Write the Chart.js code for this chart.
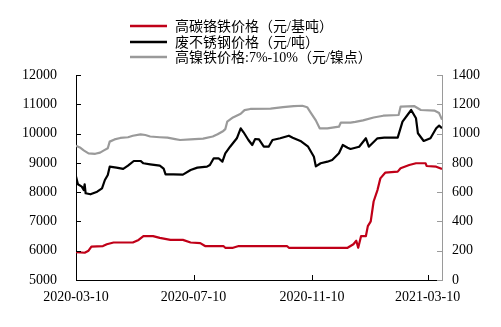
<!DOCTYPE html>
<html>
<head>
<meta charset="utf-8">
<script src="https://cdn.jsdelivr.net/npm/chart.js@4"></script>
<style>
  html, body { margin: 0; padding: 0; background: #fff; }
  canvas { display: block; }
</style>
</head>
<body>
<canvas id="c" width="501" height="327"></canvas>
<script>
// 高碳铬铁价格（元/基吨） — left axis
const redDates = ['2020-03-10','2020-03-19','2020-03-23','2020-03-26','2020-04-07','2020-04-11','2020-04-18','2020-05-08','2020-05-14','2020-05-19','2020-05-29','2020-06-05','2020-06-16','2020-06-29','2020-07-07','2020-07-17','2020-07-22','2020-08-10','2020-08-12','2020-08-20','2020-08-26','2020-10-15','2020-10-17','2020-12-17','2020-12-20','2020-12-23','2020-12-26','2020-12-28','2020-12-31','2021-01-05','2021-01-07','2021-01-10','2021-01-13','2021-01-17','2021-01-20','2021-01-25','2021-02-07','2021-02-10','2021-02-19','2021-02-26','2021-03-08','2021-03-09','2021-03-19','2021-03-25'];
const redValues = [5950,5930,6000,6140,6160,6220,6280,6280,6370,6500,6500,6440,6370,6370,6280,6260,6160,6160,6100,6100,6160,6160,6100,6100,6160,6220,6340,6100,6500,6500,6840,7000,7680,8070,8470,8665,8700,8815,8927,8986,8986,8893,8870,8790];

// 废不锈钢价格（元/吨） — left axis
const blackDates = ['2020-03-10','2020-03-12','2020-03-16','2020-03-18','2020-03-19','2020-03-20','2020-03-25','2020-04-01','2020-04-06','2020-04-09','2020-04-12','2020-04-14','2020-04-21','2020-04-28','2020-05-03','2020-05-09','2020-05-16','2020-05-19','2020-05-26','2020-06-05','2020-06-09','2020-06-11','2020-06-19','2020-06-29','2020-07-07','2020-07-14','2020-07-24','2020-07-27','2020-07-31','2020-08-05','2020-08-09','2020-08-12','2020-08-17','2020-08-24','2020-08-28','2020-08-31','2020-09-05','2020-09-09','2020-09-12','2020-09-16','2020-09-21','2020-09-26','2020-09-30','2020-10-08','2020-10-17','2020-10-21','2020-10-29','2020-11-06','2020-11-12','2020-11-14','2020-11-19','2020-11-26','2020-12-01','2020-12-08','2020-12-12','2020-12-17','2020-12-20','2020-12-29','2021-01-05','2021-01-08','2021-01-17','2021-01-24','2021-02-07','2021-02-12','2021-02-21','2021-02-26','2021-02-28','2021-03-06','2021-03-13','2021-03-19','2021-03-22','2021-03-25'];
const blackValues = [8530,8268,8187,8074,8268,7961,7927,8016,8132,8415,8586,8870,8836,8792,8904,9064,9064,8986,8951,8904,8800,8610,8610,8600,8757,8836,8870,8927,9156,9156,9040,9327,9552,9839,10180,10044,9781,9610,9815,9800,9552,9552,9781,9839,9928,9860,9747,9552,9211,8880,8986,9040,9098,9327,9610,9518,9474,9552,9839,9552,9839,9860,9860,10406,10805,10521,10010,9747,9839,10180,10270,10180];

// 高镍铁价格:7%-10%（元/镍点） — right axis
const grayDates = ['2020-03-10','2020-03-14','2020-03-18','2020-03-23','2020-03-30','2020-04-04','2020-04-08','2020-04-12','2020-04-14','2020-04-19','2020-04-25','2020-05-03','2020-05-08','2020-05-16','2020-05-21','2020-05-26','2020-06-05','2020-06-13','2020-06-21','2020-06-26','2020-07-07','2020-07-20','2020-07-30','2020-08-04','2020-08-10','2020-08-12','2020-08-14','2020-08-20','2020-08-28','2020-09-01','2020-09-07','2020-09-28','2020-10-11','2020-10-22','2020-10-31','2020-11-05','2020-11-09','2020-11-14','2020-11-18','2020-11-26','2020-12-08','2020-12-10','2020-12-20','2020-12-25','2021-01-02','2021-01-13','2021-01-23','2021-02-08','2021-02-10','2021-02-24','2021-03-03','2021-03-17','2021-03-22','2021-03-25'];
const grayValues = [917,905,885,865,862,870,885,900,945,960,970,975,985,995,990,980,975,972,962,956,960,966,980,995,1018,1030,1081,1110,1135,1160,1168,1170,1180,1188,1190,1180,1140,1090,1036,1036,1047,1075,1075,1080,1090,1110,1122,1127,1184,1188,1161,1157,1140,1095];

const seriesNames = ['高碳铬铁价格（元/基吨）', '废不锈钢价格（元/吨）', '高镍铁价格:7%-10%（元/镍点）'];
const dateTickLabels = ['2020-03-10', '2020-07-10', '2020-11-10', '2021-03-10'];
const lastDate = '2021-03-25';

const leftTicks = [5000, 6000, 7000, 8000, 9000, 10000, 11000, 12000];
const rightTicks = [0, 200, 400, 600, 800, 1000, 1200, 1400];

const BASE = Date.UTC(2020, 2, 10);
function dayOf(s) {
  const p = s.split('-').map(Number);
  return Math.round((Date.UTC(p[0], p[1] - 1, p[2]) - BASE) / 86400000);
}
function points(dates, values) {
  return dates.map((d, i) => ({ x: dayOf(d), y: values[i] }));
}
const labelByDay = {};
dateTickLabels.forEach(s => { labelByDay[dayOf(s)] = s; });

const FONT = '"Liberation Serif", "Noto Sans CJK SC", serif';
const GRAY = '#9a9a9a';

// Inward tick marks on all three axes
const innerTicks = {
  id: 'innerTicks',
  afterDraw(chart) {
    const ctx = chart.ctx;
    const { x, yL, yR } = chart.scales;
    const len = 5;
    ctx.save();
    ctx.lineWidth = 1;
    ctx.strokeStyle = '#000';
    ctx.beginPath();
    leftTicks.forEach(v => {
      const py = Math.round(yL.getPixelForValue(v)) + 0.5;
      ctx.moveTo(yL.right, py); ctx.lineTo(yL.right + len, py);
    });
    dateTickLabels.forEach(s => {
      const px = Math.round(x.getPixelForValue(dayOf(s))) + 0.5;
      ctx.moveTo(px, x.top); ctx.lineTo(px, x.top - len);
    });
    ctx.stroke();
    ctx.strokeStyle = GRAY;
    ctx.beginPath();
    rightTicks.forEach(v => {
      const py = Math.round(yR.getPixelForValue(v)) + 0.5;
      ctx.moveTo(yR.left, py); ctx.lineTo(yR.left - len, py);
    });
    ctx.stroke();
    ctx.restore();
  }
};

// Stacked legend above the plot
const stackedLegend = {
  id: 'stackedLegend',
  afterDraw(chart) {
    const ctx = chart.ctx;
    const rows = [26, 42, 57];
    ctx.save();
    ctx.font = '14px ' + FONT;
    ctx.textBaseline = 'middle';
    ctx.textAlign = 'left';
    chart.data.datasets.forEach((ds, i) => {
      const y = rows[i];
      ctx.strokeStyle = ds.borderColor;
      ctx.lineWidth = 2.5;
      ctx.beginPath();
      ctx.moveTo(130, y); ctx.lineTo(167, y);
      ctx.stroke();
      ctx.fillStyle = '#000';
      ctx.fillText(ds.label, 175, y + 1);
    });
    ctx.restore();
  }
};

new Chart(document.getElementById('c'), {
  type: 'line',
  data: {
    datasets: [
      { label: seriesNames[0], data: points(redDates, redValues), yAxisID: 'yL', borderColor: '#c00018', borderWidth: 2.2 },
      { label: seriesNames[1], data: points(blackDates, blackValues), yAxisID: 'yL', borderColor: '#000000', borderWidth: 2.2 },
      { label: seriesNames[2], data: points(grayDates, grayValues), yAxisID: 'yR', borderColor: GRAY, borderWidth: 2.2 }
    ]
  },
  options: {
    responsive: false,
    animation: false,
    devicePixelRatio: 1,
    layout: { padding: { top: 75, left: 0, right: 0, bottom: 0 } },
    elements: { point: { radius: 0 }, line: { tension: 0, borderJoinStyle: 'round' } },
    plugins: { legend: { display: false }, tooltip: { enabled: false } },
    scales: {
      x: {
        type: 'linear',
        position: 'bottom',
        min: 0,
        max: dayOf(lastDate),
        grid: { drawOnChartArea: false, drawTicks: false },
        border: { display: true, color: '#000', width: 1 },
        afterBuildTicks(scale) { scale.ticks = dateTickLabels.map(s => ({ value: dayOf(s) })); },
        afterFit(scale) { scale.height = 47; },
        ticks: {
          autoSkip: false,
          maxRotation: 0,
          padding: 9,
          color: '#000',
          font: { family: FONT, size: 14 },
          callback: v => labelByDay[v] || ''
        }
      },
      yL: {
        type: 'linear',
        position: 'left',
        min: 5000,
        max: 12000,
        grid: { drawOnChartArea: false, drawTicks: false },
        border: { display: true, color: '#000', width: 1 },
        afterBuildTicks(scale) { scale.ticks = leftTicks.map(v => ({ value: v })); },
        afterFit(scale) { scale.width = 76; },
        ticks: { padding: 19, color: '#000', font: { family: FONT, size: 14 }, callback: v => String(v) }
      },
      yR: {
        type: 'linear',
        position: 'right',
        min: 0,
        max: 1400,
        grid: { drawOnChartArea: false, drawTicks: false },
        border: { display: true, color: GRAY, width: 1 },
        afterBuildTicks(scale) { scale.ticks = rightTicks.map(v => ({ value: v })); },
        afterFit(scale) { scale.width = 59; },
        ticks: { padding: 10, color: '#000', font: { family: FONT, size: 14 }, callback: v => String(v) }
      }
    }
  },
  plugins: [innerTicks, stackedLegend]
});
</script>
</body>
</html>
